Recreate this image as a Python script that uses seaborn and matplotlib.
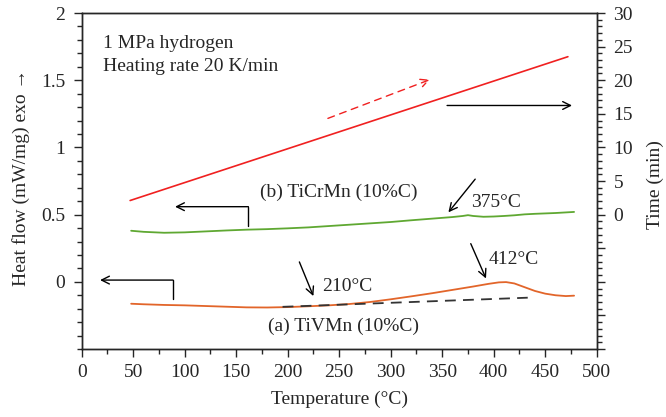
import matplotlib
matplotlib.use("Agg")
import matplotlib.pyplot as plt
import seaborn as sns
import numpy as np
import pandas as pd
from matplotlib.ticker import MultipleLocator, FuncFormatter

# ---- data ----
temp_b = [48, 60, 80, 100, 120, 140, 160, 180, 200, 220, 240, 260, 280, 300, 320,
          340, 360, 370, 375, 380, 390, 400, 410, 420, 430, 440, 460, 478]
heat_b = [0.380, 0.372, 0.365, 0.368, 0.375, 0.382, 0.388, 0.392, 0.398, 0.405,
          0.415, 0.425, 0.435, 0.445, 0.458, 0.470, 0.482, 0.490, 0.496, 0.490,
          0.484, 0.486, 0.490, 0.495, 0.502, 0.506, 0.512, 0.520]

temp_a = [48, 60, 80, 100, 120, 140, 160, 180, 200, 220, 240, 260, 280, 300, 320,
          340, 360, 380, 395, 405, 412, 420, 430, 440, 450, 460, 470, 478]
heat_a = [-0.163, -0.167, -0.172, -0.175, -0.180, -0.185, -0.190, -0.191, -0.188,
          -0.182, -0.175, -0.165, -0.150, -0.130, -0.108, -0.085, -0.060, -0.035,
          -0.015, -0.004, -0.002, -0.012, -0.040, -0.068, -0.088, -0.100, -0.106,
          -0.103]

baseline_temp = [195, 433]
baseline_heat = [-0.186, -0.118]

time_temp = [47, 472]
time_min = [2.1, 23.5]

x_ticks = [0, 50, 100, 150, 200, 250, 300, 350, 400, 450, 500]
y_ticks = [0, 0.5, 1, 1.5, 2]
t_ticks = [-20, -15, -10, -5, 0, 5, 10, 15, 20, 25, 30]

# ---- style ----
FS = 14
sns.set_style("ticks")
plt.rcParams['font.family'] = ['Liberation Serif', 'DejaVu Serif']
plt.rcParams['font.size'] = FS
plt.rcParams['axes.linewidth'] = 1.0

fig = plt.figure(figsize=(6.66, 4.17), dpi=100)
ax = fig.add_axes([0.1227, 0.163, 0.7733, 0.8058])

df_a = pd.DataFrame({"T": temp_a, "H": heat_a})
df_b = pd.DataFrame({"T": temp_b, "H": heat_b})
sns.lineplot(data=df_b, x="T", y="H", ax=ax, color="#5fa832", lw=1.3)
sns.lineplot(data=df_a, x="T", y="H", ax=ax, color="#e2652a", lw=1.3)
sns.lineplot(x=baseline_temp, y=baseline_heat, ax=ax, color="#333333", lw=1.3,
             linestyle=(0, (6, 4)))

ax.set_xlim(0, 500)
ax.set_ylim(-0.5, 2)
ax.set_xticks(x_ticks)
ax.set_yticks(y_ticks)
ax.xaxis.set_minor_locator(MultipleLocator(25))
ax.yaxis.set_minor_locator(MultipleLocator(0.1))
ax.yaxis.set_major_formatter(FuncFormatter(lambda v, p: f"{v:g}"))
ax.tick_params(which='major', direction='out', length=6, width=1, labelsize=FS, pad=5)
ax.tick_params(which='minor', direction='out', length=3.5, width=1)
ax.tick_params(axis='y', pad=6)
ax.set_xlabel("Temperature (°C)", fontsize=FS, labelpad=7)
ax.set_ylabel("Heat flow (mW/mg) exo →", fontsize=FS, va='center')
ax.yaxis.set_label_coords(-0.117, 0.51)
for s in ax.spines.values():
    s.set_visible(True)
    s.set_color("black")

ax2 = ax.twinx()
sns.lineplot(x=time_temp, y=time_min, ax=ax2, color="#f02020", lw=1.2)
ax2.set_ylim(-20, 30)
ax2.set_yticks(t_ticks)
ax2.yaxis.set_minor_locator(MultipleLocator(1))
ax2.yaxis.set_major_formatter(FuncFormatter(lambda v, p: f"{v:g}" if v >= 0 else ""))
ax2.tick_params(which='major', direction='out', length=6, width=1, labelsize=FS, pad=6)
ax2.tick_params(which='minor', direction='out', length=3.5, width=1)
ax2.set_ylabel("Time (min)", fontsize=FS, rotation=90, va='center')
ax2.yaxis.set_label_coords(1.114, 0.49)
ax2.set_xlim(0, 500)

# ---- annotations ----
ax.text(20.7, 1.736, "1 MPa hydrogen", fontsize=FS, va='baseline', ha='left')
ax.text(20.7, 1.571, "Heating rate 20 K/min", fontsize=FS, va='baseline', ha='left')
ax.text(173, 0.633, "(b) TiCrMn (10%C)", fontsize=FS, va='baseline', ha='left')
ax.text(181, -0.369, "(a) TiVMn (10%C)", fontsize=FS, va='baseline', ha='left')
ax.text(233, -0.066, "210°C", fontsize=FS, va='baseline', ha='left')
ax.text(377.7, 0.554, "375°C", fontsize=FS, va='baseline', ha='left')
ax.text(395.5, 0.131, "412°C", fontsize=FS, va='baseline', ha='left')

arr = dict(arrowstyle="->", color="black", lw=1.0, mutation_scale=14, shrinkA=0, shrinkB=0)
ax.annotate("", xy=(356, 0.517), xytext=(382, 0.764), arrowprops=arr)
ax.annotate("", xy=(392.5, 0.025), xytext=(377.7, 0.284), arrowprops=arr)
ax.annotate("", xy=(224.9, -0.106), xytext=(211.3, 0.148), arrowprops=arr)
ax.annotate("", xy=(476, 1.312), xytext=(354.7, 1.312), arrowprops=arr)

# brackets
ax.plot([161.8, 161.8], [0.419, 0.559], color="black", lw=1.0)
ax.annotate("", xy=(90.6, 0.559), xytext=(161.8, 0.559), arrowprops=arr)
ax.plot([88.6, 88.6], [-0.13, 0.013], color="black", lw=1.0)
ax.annotate("", xy=(17.8, 0.013), xytext=(88.6, 0.013), arrowprops=arr)

# red dashed arrow
ax.annotate("", xy=(338, 1.504), xytext=(239, 1.216),
            arrowprops=dict(arrowstyle="->", color="#f02020", lw=1.0, linestyle=(0, (5, 4)),
                            mutation_scale=14, shrinkA=0, shrinkB=0))

fig.savefig("out.png", dpi=100)
